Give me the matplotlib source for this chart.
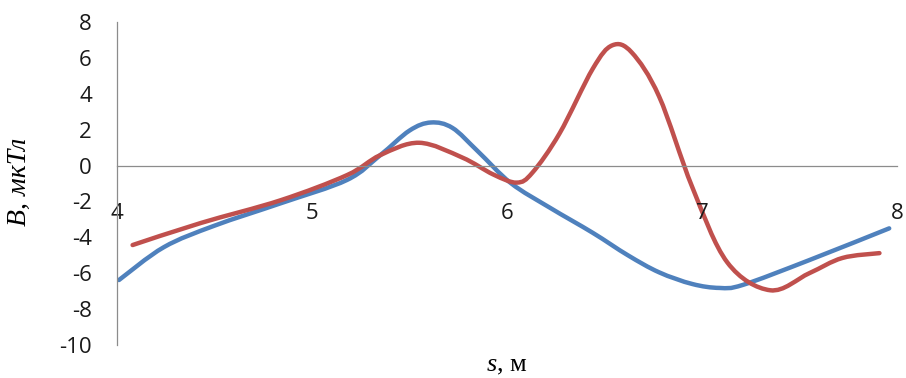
import matplotlib
matplotlib.use("Agg")
import matplotlib.pyplot as plt
from matplotlib.path import Path
from matplotlib.patches import PathPatch

# values
s_blue = [4.01, 4.24, 4.50, 4.84, 5.18, 5.35, 5.50, 5.61, 5.72, 5.85, 6.02, 6.22, 6.44, 6.62,
          6.78, 6.95, 7.09, 7.21, 7.55, 7.96]
b_blue = [-6.38, -4.55, -3.35, -2.1, -0.8, 0.58, 1.95, 2.4, 2.1, 0.8, -0.98, -2.35, -3.75, -5.0,
          -5.95, -6.6, -6.82, -6.65, -5.27, -3.5]

s_red = [4.08, 4.43, 4.84, 5.18, 5.35, 5.55, 5.77, 5.93, 6.05, 6.13, 6.27, 6.44, 6.54, 6.64,
         6.78, 6.95, 7.13, 7.35, 7.55, 7.72, 7.91]
b_red = [-4.43, -3.2, -1.93, -0.53, 0.58, 1.27, 0.45, -0.5, -0.95, -0.4, 1.8, 5.4, 6.7, 6.3,
         3.85, -1.2, -5.4, -6.95, -6.0, -5.15, -4.88]

x_ticks = [4, 5, 6, 7, 8]
y_ticks = [-10, -8, -6, -4, -2, 0, 2, 4, 6, 8]


def smooth_path(xs, ys):
    # Excel-like smoothed line: Catmull-Rom segments as cubic Beziers
    pts = list(zip(xs, ys))
    n = len(pts)
    verts = [pts[0]]
    codes = [Path.MOVETO]
    for i in range(n - 1):
        p0 = pts[i - 1] if i > 0 else pts[i]
        p1 = pts[i]
        p2 = pts[i + 1]
        p3 = pts[i + 2] if i + 2 < n else pts[i + 1]
        c1 = (p1[0] + (p2[0] - p0[0]) / 6, p1[1] + (p2[1] - p0[1]) / 6)
        c2 = (p2[0] - (p3[0] - p1[0]) / 6, p2[1] - (p3[1] - p1[1]) / 6)
        verts += [c1, c2, p2]
        codes += [Path.CURVE4] * 3
    return Path(verts, codes)


plt.rcParams['mathtext.fontset'] = 'custom'
plt.rcParams['mathtext.it'] = 'Liberation Serif:italic'
plt.rcParams['mathtext.rm'] = 'Liberation Serif'
plt.rcParams['axes.unicode_minus'] = False

fig = plt.figure(figsize=(9.06, 3.78), dpi=100)
ax = fig.add_axes([117/906, 1 - 345/378, 780/906, 323/378])

for xs, ys, col in [(s_blue, b_blue, '#4F81BD'), (s_red, b_red, '#C0504D')]:
    ax.add_patch(PathPatch(smooth_path(xs, ys), fill=False, edgecolor=col, lw=3.2,
                           joinstyle='round', capstyle='round'))

ax.set_xlim(4, 8)
ax.set_ylim(-10, 8)
ax.set_xticks(x_ticks)
ax.set_yticks(y_ticks)

for side in ['top', 'right']:
    ax.spines[side].set_visible(False)
ax.spines['bottom'].set_position(('data', 0))
for side in ['left', 'bottom']:
    ax.spines[side].set_color('#8c8c8c')
    ax.spines[side].set_linewidth(0.9)

ax.tick_params(axis='both', length=0, labelsize=16, colors='#1a1a1a')
ax.tick_params(axis='x', pad=27)
ax.tick_params(axis='y', pad=18)
for lab in ax.get_xticklabels() + ax.get_yticklabels():
    lab.set_fontfamily('Open Sans')

fig.text(507/906, 1 - 366/378, '$s$, м', fontsize=19, family='Liberation Serif',
         ha='center', va='center')
fig.text(19/906, 1 - 182/378, 'B, мкТл', fontsize=20, family='Liberation Serif',
         style='italic', rotation=90, ha='center', va='center')

fig.savefig('out.png', dpi=100)
